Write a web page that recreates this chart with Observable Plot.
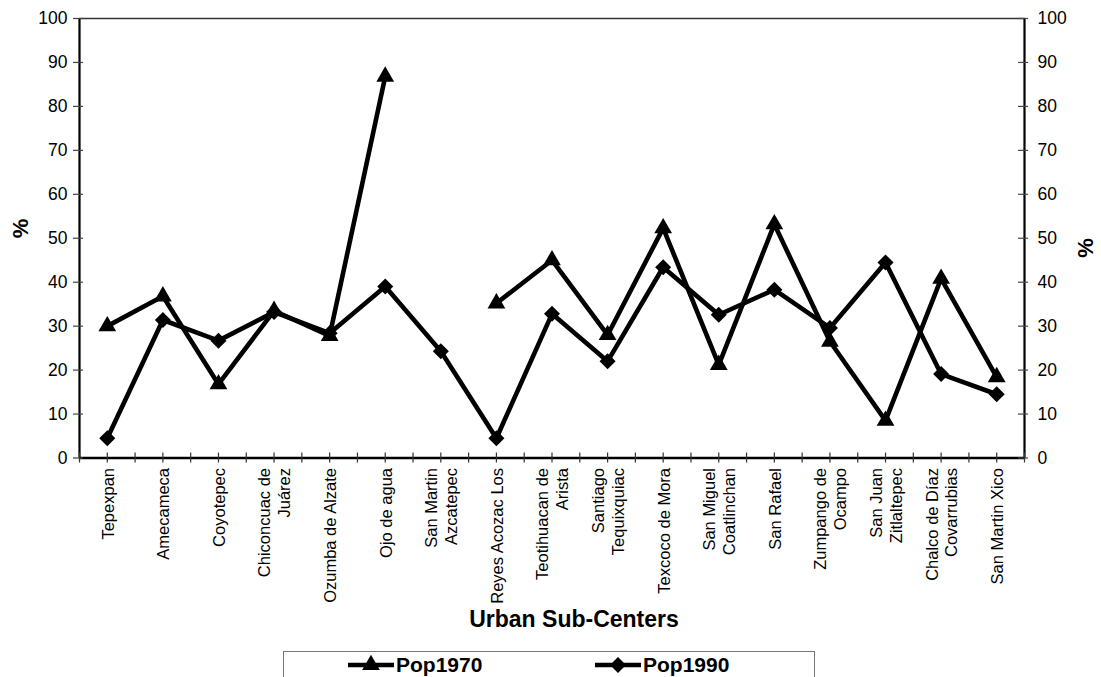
<!DOCTYPE html>
<html>
<head>
<meta charset="utf-8">
<script src="https://cdn.jsdelivr.net/npm/d3@7"></script>
<script src="https://cdn.jsdelivr.net/npm/@observablehq/plot@0.6"></script>
<style>
  html, body { margin: 0; padding: 0; background: #fff; }
  body { width: 1101px; height: 677px; overflow: hidden; font-family: "Liberation Sans", Arial, sans-serif; }
  #legend {
    margin: 6px 0 0 283px; width: 532px; height: 40px;
    border: 1px solid #777; box-sizing: border-box; position: relative;
  }
  #legend .item { position: absolute; top: 1px; display: flex; align-items: center; }
  #legend .item span { font-weight: bold; font-size: 21px; margin-left: 2px; }
</style>
</head>
<body>
<div id="chart"></div>
<div id="legend"></div>
<script>
// Urban sub-centers (line breaks mark the two-line tick labels)
const categories = [
  "Tepexpan", "Amecameca", "Coyotepec", "Chiconcuac de\nJuárez", "Ozumba de Alzate",
  "Ojo de agua", "San Martin\nAzcatepec", "Reyes Acozac Los", "Teotihuacan de\nArista",
  "Santiago\nTequixquiac", "Texcoco de Mora", "San Miguel\nCoatlinchan", "San Rafael",
  "Zumpango de\nOcampo", "San Juan\nZitlaltepec", "Chalco de Díaz\nCovarrubias", "San Martin Xico"
];
// Percentages per sub-center; null = no value for that year
const pop1970 = [30, 36.8, 16.8, 33.5, 27.8, 86.8, null, 35.2, 45, 28, 52.3, 21.2, 53.2, 26.5, 8.5, 40.8, 18.4];
const pop1990 = [4.5, 31.4, 26.7, 33.2, 28.4, 39, 24.3, 4.5, 32.8, 22, 43.4, 32.6, 38.3, 29.6, 44.5, 19.1, 14.5];
const yTicks = [0, 10, 20, 30, 40, 50, 60, 70, 80, 90, 100];
const seriesNames = ["Pop1970", "Pop1990"];

const rows70 = pop1970.map((v, i) => ({i, v}));
const rows90 = pop1990.map((v, i) => ({i, v}));
const defined = (d) => d.v != null;

// square diamond marker (d3 symbol interface)
const diamond = {
  draw(ctx, size) {
    const h = Math.sqrt(size / 2);
    ctx.moveTo(0, -h); ctx.lineTo(h, 0); ctx.lineTo(0, h); ctx.lineTo(-h, 0); ctx.closePath();
  }
};

// category boundaries and centres both carry a tick
const xTickPos = d3.range(-0.5, categories.length - 0.49, 0.5);

const font = `"Liberation Sans", Arial, sans-serif`;
const lineStyle = {stroke: "black", strokeWidth: 4.6, strokeLinejoin: "miter"};

const chart = Plot.plot({
  width: 1101,
  height: 645,
  marginTop: 18,
  marginLeft: 79,
  marginRight: 77,
  marginBottom: 187.5,
  style: {fontFamily: font, fontSize: "17px", color: "black", background: "white"},
  x: {type: "linear", domain: [-0.5, categories.length - 0.5], axis: null},
  y: {domain: [0, 100], axis: null},
  marks: [
    Plot.frame({stroke: "#333", strokeWidth: 1.5}),
    Plot.ruleX([-0.5, categories.length - 0.5], {stroke: "black", strokeWidth: 2}),
    Plot.ruleY([0], {stroke: "black", strokeWidth: 2.5}),
    // crossing tick marks on the three axes
    Plot.ruleY(yTicks, {y: (d) => d, x1: -0.5, x2: -0.5, insetLeft: -6, insetRight: -4, stroke: "#444", strokeWidth: 1.2}),
    Plot.ruleY(yTicks, {y: (d) => d, x1: categories.length - 0.5, x2: categories.length - 0.5, insetLeft: -6, insetRight: -4, stroke: "#444", strokeWidth: 1.2}),
    Plot.ruleX(xTickPos, {x: (d) => d, y1: 0, y2: 0, insetTop: -5, insetBottom: -5, stroke: "#333", strokeWidth: 1.2}),
    Plot.axisY({anchor: "left", ticks: yTicks, tickSize: 0, tickPadding: 12, label: null, fontSize: 17.5}),
    Plot.axisY({anchor: "right", ticks: yTicks, tickSize: 0, tickPadding: 13, label: null, fontSize: 17.5}),
    // category labels
    Plot.text(categories, {
      x: (d, i) => i, y: 0, text: (d) => d, rotate: -90,
      textAnchor: "end", lineAnchor: "middle", lineHeight: 1.2, dy: 10, fontSize: 16.5
    }),
    // axis titles
    Plot.text(["%"], {frameAnchor: "left", dx: -59, rotate: -90, fontWeight: "bold", fontSize: 22}),
    Plot.text(["%"], {frameAnchor: "right", dx: 61, rotate: -90, fontWeight: "bold", fontSize: 22}),
    Plot.text(["Urban Sub-Centers"], {frameAnchor: "bottom", dx: 22, dy: 169, fontWeight: "bold", fontSize: 23}),
    // series
    Plot.line(rows70, {x: "i", y: "v", ...lineStyle}),
    Plot.line(rows90, {x: "i", y: "v", ...lineStyle}),
    Plot.dot(rows70.filter(defined), {x: "i", y: "v", symbol: "triangle", r: 6.6, fill: "black", stroke: "none"}),
    Plot.dot(rows90.filter(defined), {x: "i", y: "v", symbol: diamond, r: 6.4, fill: "black", stroke: "none"})
  ]
});
document.getElementById("chart").appendChild(chart);

// legend: line sample with marker, then series name
const legend = d3.select("#legend");
const legendItems = [
  {name: seriesNames[0], left: 64, symbol: d3.symbolTriangle, size: 136},
  {name: seriesNames[1], left: 311, symbol: diamond, size: 128}
];
for (const it of legendItems) {
  const item = legend.append("div").attr("class", "item").style("left", it.left + "px");
  const svg = item.append("svg").attr("width", 46).attr("height", 24);
  svg.append("line").attr("x1", 0).attr("x2", 46).attr("y1", 12).attr("y2", 12)
    .attr("stroke", "black").attr("stroke-width", 4.6);
  svg.append("path").attr("transform", "translate(23,12)")
    .attr("d", d3.symbol(it.symbol, it.size)()).attr("fill", "black");
  item.append("span").text(it.name);
}
</script>
</body>
</html>
